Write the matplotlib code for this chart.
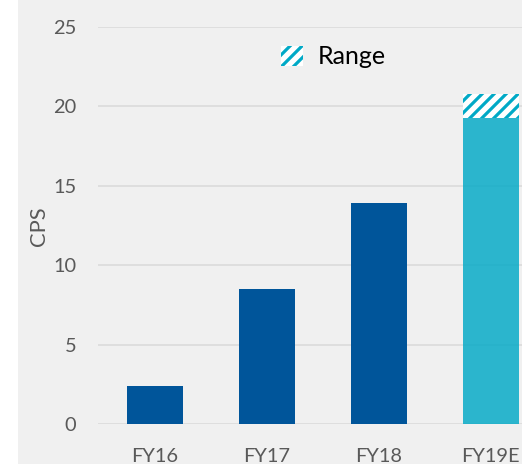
import matplotlib
matplotlib.use("Agg")
import matplotlib.pyplot as plt
from matplotlib.patches import Patch, Rectangle

# values
years = ["FY16", "FY17", "FY18", "FY19E"]
cps = [2.4, 8.5, 13.9, 19.3]
range_low = 19.3
range_high = 20.8
y_ticks = [0, 5, 10, 15, 20, 25]

DARK_BLUE = "#00559a"
TEAL = "#00a9c6"
GRID = "#d9d9d9"
TICK_GRAY = "#595959"

plt.rcParams["font.family"] = ["Lato", "DejaVu Sans"]
plt.rcParams["hatch.linewidth"] = 3.2
plt.rcParams["hatch.color"] = TEAL

W, H, DPI = 522, 464, 72
fig = plt.figure(figsize=(W / DPI, H / DPI), dpi=DPI, facecolor="white")
fig.patches.append(Rectangle((18 / W, 0), 1, 1, transform=fig.transFigure,
                             facecolor="#f0f0f0", edgecolor="none", zorder=-10))

ax = fig.add_axes([98 / W, 1 - 424 / H, 1 - 98 / W, (424 - 27) / H])
ax.set_facecolor("none")

x = list(range(len(years)))
colors = [DARK_BLUE, DARK_BLUE, DARK_BLUE, TEAL]
alphas = [1, 1, 1, 0.82]
for xi, v, c, a in zip(x, cps, colors, alphas):
    ax.bar(xi, v, width=0.5, color=c, alpha=a, zorder=3, linewidth=0)

# hatched range on top of the estimate bar
ax.bar(x[-1], range_high - range_low, bottom=range_low, width=0.5,
       facecolor="white", edgecolor=TEAL, hatch="//", linewidth=0, zorder=3)

ax.set_xlim(-0.51, 3.28)
ax.set_ylim(0, 25)
ax.set_yticks(y_ticks)
ax.set_xticks(x)
ax.set_xticklabels(years)
ax.grid(axis="y", color=GRID, linewidth=1.5, zorder=1)
ax.set_axisbelow(True)
for s in ax.spines.values():
    s.set_visible(False)
ax.tick_params(axis="both", length=0, labelsize=20, labelcolor=TICK_GRAY)
ax.tick_params(axis="y", pad=22)
ax.tick_params(axis="x", pad=24)

fig.text(39 / W, 1 - 226 / H, "CPS", rotation=90, ha="center", va="center",
         fontsize=22, color=TICK_GRAY)

handle = Patch(facecolor="white", edgecolor=TEAL, hatch="//", linewidth=0)
fig.legend([handle], ["Range"], loc="center left",
           bbox_to_anchor=(281 / W, 1 - 57 / H), frameon=False, fontsize=25,
           handlelength=0.88, handleheight=0.88, handletextpad=0.6,
           borderpad=0, borderaxespad=0)

fig.savefig("out.png", dpi=DPI, facecolor="white")
